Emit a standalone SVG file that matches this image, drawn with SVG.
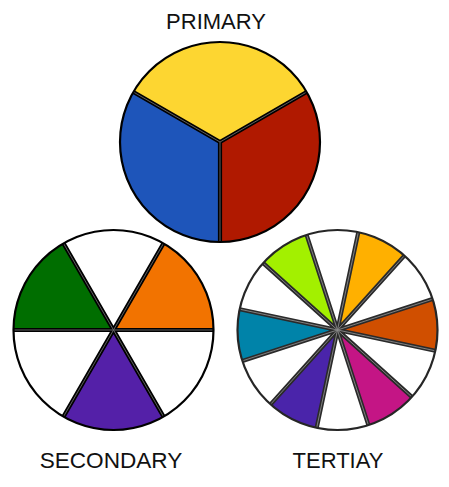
<svg xmlns="http://www.w3.org/2000/svg" width="449" height="487" viewBox="0 0 449 487">
<style>
.lbl{font-family:"Liberation Sans",Arial,Helvetica,sans-serif;font-size:22px;fill:#111;text-anchor:middle}
.ring{fill:none;stroke:#000;stroke-width:2.2}
.ring3{fill:none;stroke:#262626;stroke-width:2.2}
.sep{stroke:#000;stroke-width:4.2;fill:none}
.sep3{stroke:#2a2a2a;stroke-width:4.2;fill:none}
.mid{stroke:#6a6a6a;stroke-width:0.9;fill:none}
.mid3{stroke:#8a8a8a;stroke-width:0.9;fill:none}
</style>
<rect width="449" height="487" fill="#fff"/>
<g id="primary">
<path fill="#FDD631" d="M220,142 L133.4,92 A100,100 0 0 1 306.6,92 Z"/>
<path fill="#B01900" d="M220,142 L306.6,92 A100,100 0 0 1 220,242 Z"/>
<path fill="#1E55BA" d="M220,142 L220,242 A100,100 0 0 1 133.4,92 Z"/>
<path class="sep" d="M220,142 L133.4,92 M220,142 L306.6,92 M220,142 L220,242"/>
<path class="mid" d="M220,142 L133.4,92 M220,142 L306.6,92 M220,142 L220,242"/>
<circle class="ring" cx="220" cy="142" r="100"/>
<text class="lbl" x="216" y="29">PRIMARY</text>
</g>
<g id="secondary">
<path fill="#006E00" d="M113.5,330 L13.5,330 A100,100 0 0 1 63.5,243.4 Z"/>
<path fill="#fff" d="M113.5,330 L63.5,243.4 A100,100 0 0 1 163.5,243.4 Z"/>
<path fill="#F27300" d="M113.5,330 L163.5,243.4 A100,100 0 0 1 213.5,330 Z"/>
<path fill="#fff" d="M113.5,330 L213.5,330 A100,100 0 0 1 163.5,416.6 Z"/>
<path fill="#5420A8" d="M113.5,330 L163.5,416.6 A100,100 0 0 1 63.5,416.6 Z"/>
<path fill="#fff" d="M113.5,330 L63.5,416.6 A100,100 0 0 1 13.5,330 Z"/>
<path class="sep" d="M13.5,330 L213.5,330 M63.5,243.4 L163.5,416.6 M163.5,243.4 L63.5,416.6"/>
<path class="mid" d="M13.5,330 L213.5,330 M63.5,243.4 L163.5,416.6 M163.5,243.4 L63.5,416.6"/>
<circle class="ring" cx="113.5" cy="330" r="100"/>
<text class="lbl" x="111" y="468" style="font-size:22.6px">SECONDARY</text>
</g>
<g id="tertiary">
<path fill="#D04F00" d="M337.5,330 L432.6,299.1 A100,100 0 0 1 435.3,350.8 Z"/>
<path fill="#C41585" d="M337.5,330 L411.8,396.9 A100,100 0 0 1 368.4,425.1 Z"/>
<path fill="#4A24AA" d="M337.5,330 L316.7,427.8 A100,100 0 0 1 270.6,404.3 Z"/>
<path fill="#0083A9" d="M337.5,330 L242.4,360.9 A100,100 0 0 1 239.7,309.2 Z"/>
<path fill="#A3F000" d="M337.5,330 L263.2,263.1 A100,100 0 0 1 306.6,234.9 Z"/>
<path fill="#FFB000" d="M337.5,330 L358.3,232.2 A100,100 0 0 1 404.4,255.7 Z"/>
<path class="sep3" d="M242.4,360.9 L432.6,299.1 M239.7,309.2 L435.3,350.8 M263.2,263.1 L411.8,396.9 M306.6,234.9 L368.4,425.1 M358.3,232.2 L316.7,427.8 M404.4,255.7 L270.6,404.3"/>
<path class="mid3" d="M242.4,360.9 L432.6,299.1 M239.7,309.2 L435.3,350.8 M263.2,263.1 L411.8,396.9 M306.6,234.9 L368.4,425.1 M358.3,232.2 L316.7,427.8 M404.4,255.7 L270.6,404.3"/>
<circle class="ring3" cx="337.5" cy="330" r="100"/>
<text class="lbl" x="338" y="468">TERTIAY</text>
</g>
<g id="connectors"/>
</svg>
